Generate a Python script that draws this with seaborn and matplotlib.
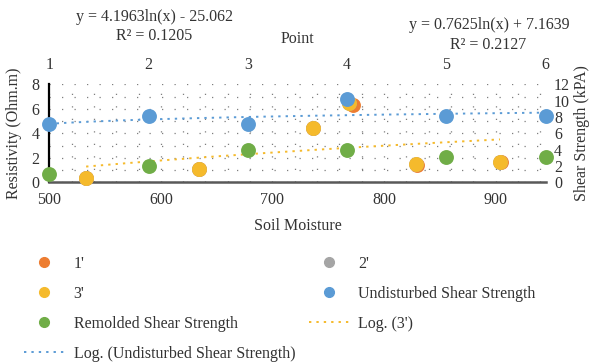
import numpy as np
import matplotlib
matplotlib.use("Agg")
import matplotlib.pyplot as plt
from matplotlib.lines import Line2D
import seaborn as sns

# ---- data ----
moisture = [533, 634, 736, 769, 829, 904]
moisture_1 = [533, 634, 736, 772, 830, 905]
res_1 = [0.38, 1.09, 4.40, 6.30, 1.45, 1.62]
res_2 = [0.38, 1.09, 4.40, 6.45, 1.47, 1.66]
res_3 = [0.38, 1.09, 4.40, 6.45, 1.50, 1.68]
points = [1, 2, 3, 4, 5, 6]
undisturbed = [7.10, 8.10, 7.10, 10.20, 8.15, 8.15]
remolded = [1.00, 2.00, 4.00, 4.00, 3.05, 3.05]
# displayed log trendline coefficients
trend3 = (4.1963, -25.062)
trendU = (0.7625, 7.1639)
x_ticks = [500, 600, 700, 800, 900]
left_ticks = [0, 2, 4, 6, 8]
right_ticks = [0, 2, 4, 6, 8, 10, 12]
top_ticks = [1, 2, 3, 4, 5, 6]

sns.set_style("white")
plt.rcParams['font.family'] = ['Liberation Serif', 'DejaVu Serif']
FS = 11.5
plt.rcParams['font.size'] = FS
TXT = '#333333'

C1, C2, C3 = '#ED7D31', '#A5A5A5', '#F5BA2C'
CU, CR = '#5B9BD5', '#70AD47'

fig = plt.figure(figsize=(5.92, 3.64), dpi=100)
pos = [49.3 / 592, 1 - 182.3 / 364, (545.7 - 49.3) / 592, (182.3 - 84.3) / 364]
ax = fig.add_axes(pos)
ax2 = fig.add_axes(pos, frameon=False)

# ---- primary axes: resistivity vs soil moisture ----
ax.set_xlim(500, 945)
ax.set_ylim(0, 8)
grid_kw = dict(color='#7f7f7f', lw=0.9, linestyle=(0, (1, 9)), zorder=0)
for yv in range(0, 9):
    ax.axhline(yv, **grid_kw)
for xv in np.arange(500, 946, 20):
    ax.axvline(xv, **grid_kw)

S = 115
sns.scatterplot(x=moisture_1, y=res_1, ax=ax, color=C1, s=S, linewidth=0, clip_on=False, zorder=3)
sns.scatterplot(x=moisture, y=res_2, ax=ax, color=C2, s=S, linewidth=0, clip_on=False, zorder=3)
sns.scatterplot(x=moisture, y=res_3, ax=ax, color=C3, s=S, linewidth=0, clip_on=False, zorder=3)
xt = np.linspace(min(moisture), max(moisture), 200)
sns.lineplot(x=xt, y=trend3[0] * np.log(xt) + trend3[1], ax=ax, color=C3, lw=1.4,
             linestyle=(0, (1.2, 2.6)), zorder=2)

ax.set_xticks(x_ticks)
ax.set_yticks(left_ticks)
ax.tick_params(axis='both', length=0, labelsize=FS, colors=TXT)
ax.tick_params(axis='x', pad=7)
ax.tick_params(axis='y', pad=7)
for s in ['top', 'right']:
    ax.spines[s].set_visible(False)
ax.spines['left'].set_color('#000000')
ax.spines['left'].set_linewidth(1.6)
ax.spines['bottom'].set_color('#595959')
ax.spines['bottom'].set_linewidth(1.8)
ax.set_xlabel('Soil Moisture', color=TXT, fontsize=FS, labelpad=7)
ax.set_ylabel('Resistivity (Ohm.m)', color=TXT, fontsize=FS)
ax.yaxis.label.set_va('center')
ax.yaxis.set_label_coords((14 - 49.3) / 496.4, 0.5)

# ---- secondary axes: shear strength vs point ----
ax2.patch.set_alpha(0)
ax2.set_xlim(1, 6)
ax2.set_ylim(0, 12)
xu = np.linspace(min(points), max(points), 200)
sns.lineplot(x=xu, y=trendU[0] * np.log(xu) + trendU[1], ax=ax2, color=CU, lw=1.4,
             linestyle=(0, (1.2, 2.6)), zorder=2)
sns.scatterplot(x=points, y=undisturbed, ax=ax2, color=CU, s=S, linewidth=0, clip_on=False, zorder=3)
sns.scatterplot(x=points, y=remolded, ax=ax2, color=CR, s=S, linewidth=0, clip_on=False, zorder=3)
ax2.xaxis.tick_top()
ax2.xaxis.set_label_position('top')
ax2.yaxis.tick_right()
ax2.yaxis.set_label_position('right')
ax2.set_xticks(top_ticks)
ax2.set_yticks(right_ticks)
ax2.tick_params(axis='both', length=0, labelsize=FS, colors=TXT)
ax2.tick_params(axis='x', pad=8)
ax2.tick_params(axis='y', pad=6)
ax2.set_xlabel('Point', color=TXT, fontsize=FS, labelpad=10)
ax2.set_ylabel('Shear Strength (kPA)', color=TXT, fontsize=FS)
ax2.yaxis.label.set_va('center')
ax2.yaxis.set_label_coords((582 - 49.3) / 496.4, 0.5)

# ---- trendline equations ----
fig.text(154 / 592, 1 - 16.7 / 364, 'y = 4.1963ln(x) - 25.062', ha='center', va='center', color=TXT, fontsize=FS)
fig.text(154 / 592, 1 - 35.7 / 364, 'R² = 0.1205', ha='center', va='center', color=TXT, fontsize=FS)
fig.text(489 / 592, 1 - 25 / 364, 'y = 0.7625ln(x) + 7.1639', ha='center', va='center', color=TXT, fontsize=FS)
fig.text(488 / 592, 1 - 45 / 364, 'R² = 0.2127', ha='center', va='center', color=TXT, fontsize=FS)

# ---- legend ----
def mk(c):
    return Line2D([], [], marker='o', color=c, linestyle='none', markersize=7)

def ln(c):
    return Line2D([], [], color=c, lw=1.4, linestyle=(0, (1.2, 2.6)))

handles = [mk(C1), mk(C3), mk(CR), ln(CU), mk(C2), mk(CU), ln(C3)]
labels = ["1'", "3'", 'Remolded Shear Strength', 'Log. (Undisturbed Shear Strength)',
          "2'", 'Undisturbed Shear Strength', "Log. (3')"]
leg = fig.legend(handles, labels, ncol=2, loc='upper left',
                 bbox_to_anchor=(24 / 592, 1 - 256 / 364), frameon=False,
                 handlelength=2.5, handletextpad=0.6, columnspacing=0.85,
                 labelspacing=0.87, borderpad=0, borderaxespad=0, fontsize=FS)
for t in leg.get_texts():
    t.set_color(TXT)

fig.savefig('out.png', dpi=100)
